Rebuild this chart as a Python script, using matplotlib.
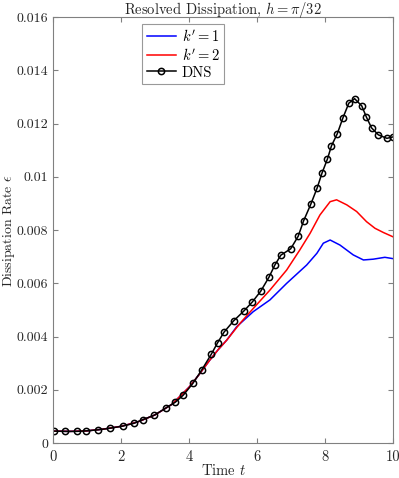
import matplotlib
matplotlib.use("Agg")
import matplotlib.pyplot as plt

plt.rcParams['font.family'] = ['cmr10', 'DejaVu Serif']
plt.rcParams['mathtext.fontset'] = 'cm'
plt.rcParams['axes.formatter.use_mathtext'] = True

# DNS data
t_dns = [0.04, 0.36, 0.70, 0.97, 1.33, 1.68, 2.05, 2.37, 2.64, 2.98, 3.32, 3.60,
         3.83, 4.11, 4.37, 4.65, 4.84, 5.03, 5.31, 5.61, 5.86, 6.11, 6.35, 6.52,
         6.70, 6.99, 7.21, 7.37, 7.58, 7.77, 7.91, 8.07, 8.19, 8.36, 8.53, 8.70,
         8.87, 9.08, 9.22, 9.37, 9.57, 9.82, 9.99]
e_dns = [0.00045, 0.00044, 0.00044, 0.00046, 0.00050, 0.00056, 0.00064, 0.00074,
         0.00088, 0.00105, 0.00132, 0.00154, 0.00180, 0.00224, 0.00274, 0.00333,
         0.00377, 0.00417, 0.00459, 0.00496, 0.00530, 0.00571, 0.00623, 0.00668,
         0.00706, 0.00730, 0.00777, 0.00835, 0.00897, 0.00959, 0.01014, 0.01067,
         0.01117, 0.01162, 0.01223, 0.01277, 0.01294, 0.01267, 0.01224, 0.01184,
         0.01158, 0.01145, 0.01150]

# k' = 1
t_k1 = [0.0, 0.5, 1.0, 1.5, 2.0, 2.5, 3.0, 3.5, 4.0, 4.3, 4.6, 4.85, 5.11,
        5.40, 5.89, 6.38, 6.87, 7.46, 7.76, 7.95, 8.15, 8.44, 8.83, 9.13,
        9.42, 9.76, 10.0]
e_k1 = [0.00045, 0.00044, 0.00046, 0.00053, 0.00063, 0.00080, 0.00106, 0.00146,
        0.0021, 0.00258, 0.0031, 0.0035, 0.00387,
        0.00437, 0.00494, 0.00538, 0.00600, 0.00669, 0.00713, 0.00751, 0.00763,
        0.00744, 0.00707, 0.00688, 0.00691, 0.00698, 0.00693]

# k' = 2
t_k2 = [0.0, 0.5, 1.0, 1.5, 2.0, 2.5, 3.0, 3.5, 4.0, 4.3, 4.6, 4.85, 5.11,
        5.50, 5.89, 6.38, 6.87, 7.26, 7.56, 7.85, 8.15, 8.34, 8.64, 8.93,
        9.22, 9.47, 9.72, 10.0]
e_k2 = [0.00045, 0.00044, 0.00046, 0.00053, 0.00063, 0.00080, 0.00106, 0.00146,
        0.0021, 0.00258, 0.0031, 0.0035, 0.00387,
        0.00450, 0.00506, 0.00575, 0.00650, 0.00726, 0.00788, 0.00857, 0.00907,
        0.00914, 0.00895, 0.00870, 0.00832, 0.00807, 0.00791, 0.00775]

xticks = [0, 2, 4, 6, 8, 10]
yticks = [0, 0.002, 0.004, 0.006, 0.008, 0.010, 0.012, 0.014, 0.016]
ytick_labels = ['0', '0.002', '0.004', '0.006', '0.008', '0.01', '0.012', '0.014', '0.016']

fig = plt.figure(figsize=(3.99, 4.78), dpi=100)
ax = fig.add_axes([0.133, 0.073, 0.852, 0.891])

ax.plot(t_k1, e_k1, color='#0000ff', lw=1.1, label="$k' = 1$")
ax.plot(t_k2, e_k2, color='#ff0000', lw=1.1, label="$k' = 2$")
ax.plot(t_dns, e_dns, color='black', lw=1.1, marker='o', ms=4.5, mfc='none',
        mec='black', mew=1.1, label='DNS')

ax.set_xlim(0, 10)
ax.set_ylim(0, 0.016)
ax.set_xticks(xticks)
ax.set_xticklabels([str(v) for v in xticks])
ax.set_yticks(yticks)
ax.set_yticklabels(ytick_labels)

gray = '#808080'
txt = '#262626'
for s in ax.spines.values():
    s.set_color(gray)
    s.set_linewidth(0.8)
ax.tick_params(direction='in', top=True, right=True, length=3.5, width=0.8,
               color=gray, labelcolor=txt, labelsize=10)
ax.tick_params(axis='x', pad=5, labelsize=10.5)

ax.set_xlabel('Time $t$', fontsize=10.5, color=txt)
ax.xaxis.set_label_coords(0.5, -0.047)
ax.set_ylabel('Dissipation Rate $\\epsilon$', fontsize=10, color=txt)
ax.yaxis.set_label_coords(-0.106, 0.5)
ax.set_title('Resolved Dissipation, $h = \\pi/32$', fontsize=10.5, color=txt, pad=2.5)

leg = ax.legend(loc='upper left', bbox_to_anchor=(0.262, 0.985), fontsize=10.5,
                frameon=True, fancybox=False, edgecolor=gray, handlelength=2.0,
                handletextpad=0.4, borderpad=0.3, labelspacing=0.2, borderaxespad=0)
leg.get_frame().set_linewidth(0.8)

fig.savefig('out.png', dpi=100)
